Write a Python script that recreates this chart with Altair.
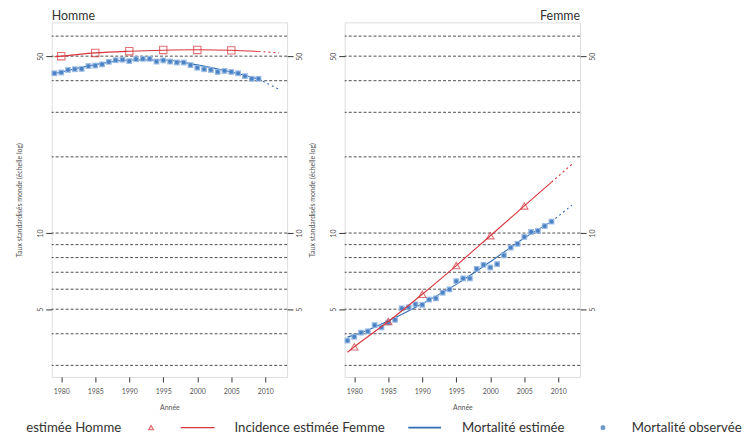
import altair as alt
import pandas as pd

FONT = "Lato"
RED = "#D8343C"
BLUE = "#2F6DB5"
LIGHTBLUE = "#8DB3E2"
GRID = "#3A3A3A"
LEG_FS = 13.3

# ---------------- data ----------------
obs_years = list(range(1979, 2010))
homme_mort_obs = [42.8, 43.1, 44.1, 44.4, 44.5, 45.7, 45.9, 46.4, 47.5, 48.2, 48.4,
                  47.8, 48.7, 48.8, 48.8, 47.6, 48.1, 47.6, 47.2, 47.2, 46.1,
                  45.0, 44.4, 44.1, 43.3, 43.7, 43.3, 42.8, 41.7, 40.7, 40.7]
femme_mort_obs = [3.76, 3.89, 4.04, 4.09, 4.33, 4.24, 4.43, 4.54, 5.04, 5.09, 5.23,
                  5.20, 5.46, 5.52, 5.81, 5.99, 6.46, 6.62, 6.62, 7.22, 7.49,
                  7.31, 7.54, 8.17, 8.76, 9.06, 9.65, 10.1, 10.2, 10.66, 11.1]

inc_years = [1980, 1985, 1990, 1995, 2000, 2005]
homme_inc_obs = [50.0, 51.5, 52.3, 52.9, 52.9, 52.7]
femme_inc_obs = [3.55, 4.47, 5.73, 7.44, 9.76, 12.8]

curve_years = [1979, 1980, 1985, 1990, 1995, 2000, 2005, 2009]
proj_years = [2009, 2012]
homme_inc_curve = [49.7, 50.0, 51.5, 52.3, 52.8, 53.0, 52.8, 52.2]
homme_inc_proj = [52.2, 51.5]
homme_mort_curve = [42.7, 43.3, 46.3, 48.3, 48.3, 46.2, 43.3, 40.6]
homme_mort_proj = [40.6, 37.0]
femme_inc_curve = [3.38, 3.55, 4.47, 5.73, 7.44, 9.76, 12.8, 15.9]
femme_inc_proj = [15.9, 18.7]
femme_mort_curve = [3.88, 3.95, 4.5, 5.26, 6.27, 7.7, 9.56, 11.1]
femme_mort_proj = [11.1, 12.9]

grid_values = [3, 4, 5, 6, 7, 8, 9, 10, 20, 30, 40, 50, 60]
axis_values = [5, 10, 50]
x_ticks = [1980, 1985, 1990, 1995, 2000, 2005, 2010]

leg_labels = ["Incidence estimée Homme", "Incidence estimée Femme", "Mortalité estimée", "Mortalité observée"]
leg_text_pos = [70, 184, 413, 584]

ASTERISK = "M-1,0L1,0M0,-1L0,1M-0.75,-0.75L0.75,0.75M-0.75,0.75L0.75,-0.75"

W, H = 237, 357
YSCALE = alt.Scale(type="log", domain=[2.7, 68], nice=False, zero=False)
XSCALE = alt.Scale(domain=[1978.6, 2013.2], nice=False, zero=False)
YTITLE = "Taux standardisés monde (échelle log)"

x_axis = alt.Axis(values=x_ticks, format="d", title="Année", grid=False, domain=False,
                  tickSize=5, tickColor="#333", labelFontSize=7, labelColor="#555",
                  labelFont=FONT, titleFont=FONT, titleFontSize=7, titleColor="#555",
                  titleFontWeight="normal", labelPadding=6, titlePadding=9)


def y_axis(orient, with_title):
    kw = dict(orient=orient, values=axis_values, format="d", grid=False, domain=False,
              tickSize=6, tickColor="#333", labelAngle=270, labelAlign="center",
              labelBaseline="bottom" if orient == "left" else "top",
              labelFontSize=7, labelColor="#555", labelFont=FONT, labelPadding=2)
    if with_title:
        kw.update(title=YTITLE, titleFont=FONT, titleFontSize=7, titleColor="#555",
                  titleFontWeight="normal", titlePadding=14)
    else:
        kw.update(title=None)
    return alt.Axis(**kw)


def panel(title, anchor, mort_obs, inc_obs, inc_curve, inc_proj, mort_curve, mort_proj, inc_shape):
    df_obs = pd.DataFrame({"year": obs_years, "value": mort_obs})
    df_inc = pd.DataFrame({"year": inc_years, "value": inc_obs})
    df_ic = pd.DataFrame({"year": curve_years, "value": inc_curve})
    df_ip = pd.DataFrame({"year": proj_years, "value": inc_proj})
    df_mc = pd.DataFrame({"year": curve_years, "value": mort_curve})
    df_mp = pd.DataFrame({"year": proj_years, "value": mort_proj})
    df_grid = pd.DataFrame({"value": grid_values})

    X = alt.X("year:Q", scale=XSCALE, axis=x_axis)
    Y = alt.Y("value:Q", scale=YSCALE, axis=y_axis("left", True))

    grid_left = alt.Chart(df_grid).mark_rule(color=GRID, strokeDash=[3, 2], strokeWidth=0.9).encode(
        y=alt.Y("value:Q", scale=YSCALE, axis=y_axis("left", True)))
    grid_right = alt.Chart(df_grid).mark_rule(opacity=0).encode(
        y=alt.Y("value:Q", scale=YSCALE, axis=y_axis("right", False)))

    mc = alt.Chart(df_mc).mark_line(color=BLUE, strokeWidth=1.1, interpolate="monotone").encode(x=X, y=Y)
    mp = alt.Chart(df_mp).mark_line(color=BLUE, strokeWidth=1.1, strokeDash=[2, 3]).encode(x=X, y=Y)
    ic = alt.Chart(df_ic).mark_line(color=RED, strokeWidth=1.1, interpolate="monotone").encode(x=X, y=Y)
    ip = alt.Chart(df_ip).mark_line(color=RED, strokeWidth=1.1, strokeDash=[2, 3]).encode(x=X, y=Y)
    obs_bg = alt.Chart(df_obs).mark_point(shape="square", filled=True, color=LIGHTBLUE,
                                          size=34, opacity=0.9).encode(x=X, y=Y)
    obs_fg = alt.Chart(df_obs).mark_point(shape=ASTERISK, filled=False, color=BLUE,
                                          size=14, strokeWidth=1.4).encode(x=X, y=Y)
    inc = alt.Chart(df_inc).mark_point(shape=inc_shape, filled=False, color=RED, size=55,
                                       strokeWidth=1.1).encode(x=X, y=Y)

    main = alt.layer(grid_left, mc, mp, obs_bg, obs_fg, ic, ip, inc)
    return alt.layer(main, grid_right).resolve_axis(y="independent").properties(
        width=W, height=H,
        title=alt.TitleParams(title, anchor=anchor, frame="group", font=FONT, fontSize=12.5,
                              fontWeight="normal", color="#333", offset=0))


left = panel("Homme", "start", homme_mort_obs, homme_inc_obs, homme_inc_curve, homme_inc_proj,
             homme_mort_curve, homme_mort_proj, "square")
right = panel("Femme", "end", femme_mort_obs, femme_inc_obs, femme_inc_curve, femme_inc_proj,
              femme_mort_curve, femme_mort_proj, "triangle-up")

top = alt.hconcat(left, right, spacing=5)

# ---------------- legend ----------------
LW, LH = 694, 20
LX = alt.Scale(domain=[0, LW], range=[0, LW], nice=False, zero=False)
LY = alt.Scale(domain=[0, LH], range=[0, LH], nice=False, zero=False)

df_first = pd.DataFrame({"x": leg_text_pos[:1], "y": [10], "label": leg_labels[:1]})
df_txt = pd.DataFrame({"x": leg_text_pos[1:], "y": [10] * 3, "label": leg_labels[1:]})
df_tri = pd.DataFrame({"x": [100], "y": [10]})
df_ast = pd.DataFrame({"x": [555], "y": [10]})
df_red = pd.DataFrame({"x": [130], "x2": [164], "y": [10]})
df_blue = pd.DataFrame({"x": [359], "x2": [392], "y": [10]})

LYe = alt.Y("y:Q", scale=LY, axis=None)
LXe = alt.X("x:Q", scale=LX, axis=None)

layers = [
    # first label is cut by the page edge in the reference: keep its right-hand part
    alt.Chart(df_first).mark_text(align="right", baseline="middle", font=FONT, fontSize=LEG_FS,
                                  color="#333", limit=102, dir="rtl", ellipsis="\u200b").encode(
        x=LXe, y=LYe, text="label:N"),
    alt.Chart(df_txt).mark_text(align="left", baseline="middle", font=FONT, fontSize=LEG_FS,
                                color="#333").encode(x=LXe, y=LYe, text="label:N"),
    alt.Chart(df_tri).mark_point(shape="triangle-up", filled=False, color=RED, size=22,
                                 strokeWidth=1.3).encode(x=LXe, y=LYe),
    alt.Chart(df_ast).mark_point(shape=ASTERISK, filled=False, color=BLUE, size=22,
                                 strokeWidth=1.6).encode(x=LXe, y=LYe),
    alt.Chart(df_red).mark_rule(color=RED, strokeWidth=1.3).encode(x=LXe, x2="x2:Q", y=LYe),
    alt.Chart(df_blue).mark_rule(color=BLUE, strokeWidth=1.6).encode(x=LXe, x2="x2:Q", y=LYe),
]

legend = alt.layer(*layers).properties(width=LW, height=LH, view=alt.ViewConfig(stroke=None))

chart = alt.vconcat(top, legend, spacing=6).properties(
    padding={"left": 7, "top": 0, "right": 0, "bottom": 0}
).configure_view(stroke="#444", strokeWidth=1).configure(background="white")

chart.save("out.html", embed_options={"renderer": "svg", "actions": False})
